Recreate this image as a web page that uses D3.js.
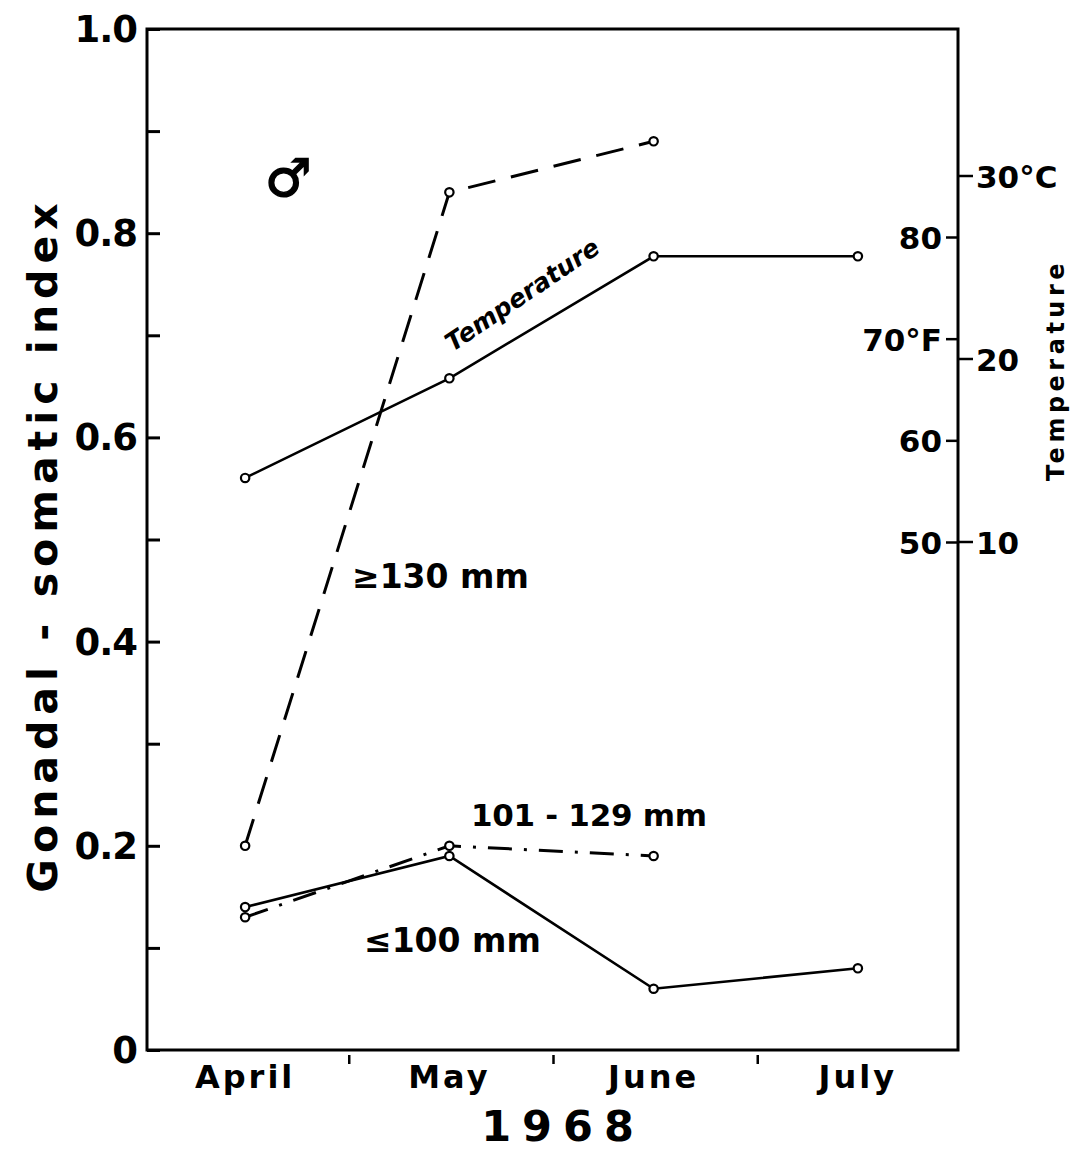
<!DOCTYPE html>
<html>
<head>
<meta charset="utf-8">
<script src="https://cdn.jsdelivr.net/npm/d3@7"></script>
<style>
  body { margin: 0; background: #fff; }
  text { font-family: "DejaVu Sans", sans-serif; font-weight: bold; fill: #000; }
</style>
</head>
<body>
<div class="chart"></div>
<script>
const w = 1075;
const h = 1150;

// data
const months = ["April", "May", "June", "July"];
const gsiBig = [0.20, 0.84, 0.89];          // >= 130 mm, April-June
const gsiMid = [0.13, 0.20, 0.19];          // 101-129 mm, April-June
const gsiSmall = [0.14, 0.19, 0.06, 0.08];  // <= 100 mm
const tempF = [56.3, 66.1, 78.1, 78.1];     // water temperature, deg F
const gsiTicks = [0, 0.1, 0.2, 0.3, 0.4, 0.5, 0.6, 0.7, 0.8, 0.9, 1.0];
const gsiLabels = [0, 0.2, 0.4, 0.6, 0.8, 1.0];
const fTicks = [50, 60, 70, 80];
const cTicks = [10, 20, 30];

const pLeft = 147, pRight = 958, pTop = 29, pBottom = 1050;

const svg = d3.select(".chart")
              .append("svg")
              .attr("width", w)
              .attr("height", h);

const x = d3.scaleBand()
            .domain(months)
            .range([pLeft - 4, pRight + 2]);
const cx = m => x(m) + x.bandwidth() / 2;

const y = d3.scaleLinear()
            .domain([0, 1])
            .range([pBottom, pTop]);

const yF = d3.scaleLinear()
             .domain([50, 80])
             .range([542, 237]);
const yC = c => yF(c * 9 / 5 + 32);

// frame
svg.append("rect")
   .attr("x", pLeft).attr("y", pTop)
   .attr("width", pRight - pLeft).attr("height", pBottom - pTop)
   .attr("fill", "none").attr("stroke", "#000").attr("stroke-width", 3);

// left axis, ticks inward
const yAxis = d3.axisRight(y)
                .tickValues(gsiTicks)
                .tickSize(13)
                .tickFormat("");
const gy = svg.append("g")
   .attr("transform", "translate(" + pLeft + ",0)")
   .call(yAxis);
gy.select(".domain").remove();
gy.selectAll("line").attr("stroke-width", 3);

svg.selectAll(".ylab")
   .data(gsiLabels)
   .enter()
   .append("text")
   .attr("class", "ylab")
   .attr("x", 137)
   .attr("y", d => y(d) + 13)
   .attr("text-anchor", "end")
   .style("font-size", "37px")
   .style("letter-spacing", "-1px")
   .text(d => d === 0 ? "0" : d.toFixed(1));

// month axis
const xAxis = d3.axisBottom(x).tickSize(0).tickFormat("");
const gx = svg.append("g")
   .attr("transform", "translate(0," + pBottom + ")")
   .call(xAxis);
gx.select(".domain").remove();

svg.selectAll(".sep")
   .data(months.slice(1))
   .enter()
   .append("line")
   .attr("x1", d => x(d) + 2).attr("x2", d => x(d) + 2)
   .attr("y1", pBottom + 5).attr("y2", pBottom + 14)
   .attr("stroke", "#000").attr("stroke-width", 2.5);

svg.selectAll(".mlab")
   .data(months)
   .enter()
   .append("text")
   .attr("x", d => cx(d))
   .attr("y", 1088)
   .attr("text-anchor", "middle")
   .style("font-size", "32px")
   .style("letter-spacing", "3px")
   .text(d => d);

svg.append("text")
   .attr("x", 563).attr("y", 1141)
   .attr("text-anchor", "middle")
   .style("font-size", "43px")
   .style("letter-spacing", "11px")
   .text("1968");

// right temperature axis
const gF = svg.append("g")
   .attr("transform", "translate(" + pRight + ",0)")
   .call(d3.axisLeft(yF).tickValues(fTicks).tickSize(12).tickFormat(""));
gF.select(".domain").remove();
gF.selectAll("line").attr("stroke-width", 2.5);

svg.selectAll(".flab")
   .data(fTicks)
   .enter()
   .append("text")
   .attr("x", 942)
   .attr("y", d => yF(d) + 12)
   .attr("text-anchor", "end")
   .style("font-size", "31px")
   .text(d => d === 70 ? "70°F" : d);

svg.selectAll(".ctick")
   .data(cTicks)
   .enter()
   .append("line")
   .attr("x1", pRight).attr("x2", pRight + 15)
   .attr("y1", d => yC(d)).attr("y2", d => yC(d))
   .attr("stroke", "#000").attr("stroke-width", 2.5);

svg.selectAll(".clab")
   .data(cTicks)
   .enter()
   .append("text")
   .attr("x", 976)
   .attr("y", d => yC(d) + 12)
   .style("font-size", "31px")
   .text(d => d === 30 ? "30°C" : d);

// axis titles
svg.append("text")
   .attr("transform", "translate(57,545) rotate(-90)")
   .attr("text-anchor", "middle")
   .style("font-size", "41px")
   .style("letter-spacing", "6px")
   .text("Gonadal - somatic index");

svg.append("text")
   .attr("transform", "translate(1064,370) rotate(-90)")
   .attr("text-anchor", "middle")
   .style("font-size", "24px")
   .style("letter-spacing", "4.5px")
   .text("Temperature");

// series
const line = d3.line().x((d, i) => cx(months[i]));

function series(vals, scale, dash, sw) {
  svg.append("path")
     .datum(vals)
     .attr("d", line.y(d => scale(d)))
     .attr("fill", "none")
     .attr("stroke", "#000")
     .attr("stroke-width", sw)
     .attr("stroke-dasharray", dash);
  svg.selectAll(null)
     .data(vals)
     .enter()
     .append("circle")
     .attr("cx", (d, i) => cx(months[i]))
     .attr("cy", d => scale(d))
     .attr("r", 4.2)
     .attr("fill", "#fff")
     .attr("stroke", "#000")
     .attr("stroke-width", 2.2);
}

series(gsiBig, y, "28,16", 3);
series(gsiMid, y, "24,12,3,12", 3);
series(gsiSmall, y, null, 2.6);
series(tempF, yF, null, 2.6);

// in-plot labels
svg.append("text")
   .attr("x", 265).attr("y", 196)
   .style("font-size", "52px")
   .style("font-weight", "normal")
   .attr("stroke", "#000")
   .attr("stroke-width", 1.5)
   .text("♂");

svg.append("text")
   .attr("transform", "translate(527,302) rotate(-34)")
   .attr("text-anchor", "middle")
   .style("font-size", "25px")
   .style("font-style", "italic")
   .text("Temperature");

svg.append("text")
   .attr("x", 352).attr("y", 588)
   .style("font-size", "33px")
   .text("≥130 mm");

svg.append("text")
   .attr("x", 471).attr("y", 826)
   .style("font-size", "31px")
   .style("letter-spacing", "-0.3px")
   .text("101 - 129 mm");

svg.append("text")
   .attr("x", 364).attr("y", 952)
   .style("font-size", "33px")
   .text("≤100 mm");
</script>
</body>
</html>
